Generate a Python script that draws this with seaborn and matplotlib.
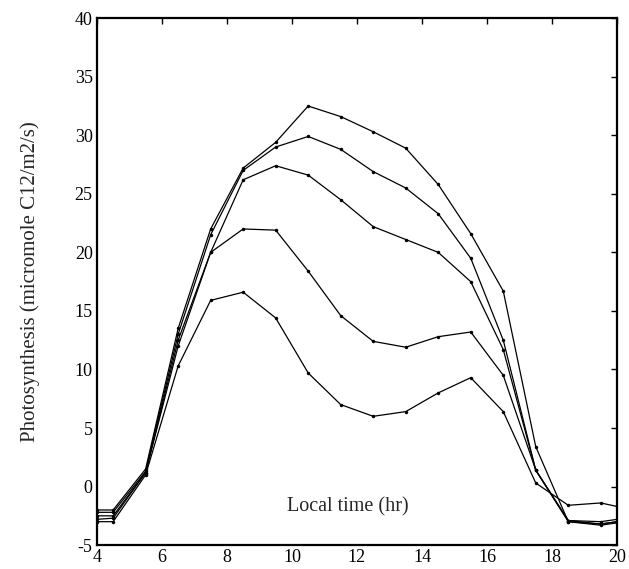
import matplotlib
matplotlib.use("Agg")
import matplotlib.pyplot as plt
import seaborn as sns
import pandas as pd

# local time (hr)
hours = [4, 4.5, 5.5, 6.5, 7.5, 8.5, 9.5, 10.5, 11.5, 12.5, 13.5, 14.5, 15.5, 16.5, 17.5, 18.5, 19.5, 20]

# photosynthesis curves
curve_a = [-2.0, -2.0, 1.5, 13.5, 22.0, 27.2, 29.4, 32.5, 31.6, 30.3, 28.9, 25.8, 21.6, 16.7, 3.4, -3.0, -3.2, -3.0]
curve_b = [-2.2, -2.2, 1.3, 13.0, 21.5, 27.0, 29.0, 29.9, 28.8, 26.9, 25.5, 23.3, 19.5, 12.5, 1.4, -2.9, -3.0, -2.8]
curve_c = [-2.5, -2.5, 1.2, 12.5, 20.0, 26.2, 27.4, 26.6, 24.5, 22.2, 21.1, 20.0, 17.5, 11.7, 1.4, -3.0, -3.3, -3.1]
curve_d = [-2.8, -2.7, 1.2, 12.0, 20.0, 22.0, 21.9, 18.4, 14.6, 12.4, 11.9, 12.8, 13.2, 9.5, 1.4, -2.9, -3.2, -3.0]
curve_e = [-3.0, -3.0, 1.0, 10.3, 15.9, 16.6, 14.4, 9.7, 7.0, 6.0, 6.4, 8.0, 9.3, 6.4, 0.3, -1.6, -1.4, -1.7]

curves = {"a": curve_a, "b": curve_b, "c": curve_c, "d": curve_d, "e": curve_e}
df = pd.concat(
    [pd.DataFrame({"hour": hours, "photo": v, "curve": k}) for k, v in curves.items()],
    ignore_index=True,
)

sns.set_style("white")
plt.rcParams["font.family"] = ["Liberation Serif", "DejaVu Serif"]
plt.rcParams["axes.unicode_minus"] = False

fig = plt.figure(figsize=(6.29, 5.69), dpi=100)
ax = fig.add_axes([0.154, 0.042, 0.827, 0.926])

sns.lineplot(
    data=df, x="hour", y="photo", hue="curve",
    palette=["black"] * 5, marker="o", markersize=2.5, markeredgewidth=0,
    linewidth=0.9, legend=False, ax=ax,
)

ax.set_xlim(4, 20)
ax.set_ylim(-5, 40)
ax.set_xticks(range(4, 21, 2))
ax.set_yticks(range(-5, 41, 5))
ax.tick_params(direction="in", top=True, right=True, length=4, width=1,
               labelsize=13, colors="black", pad=3)
for s in ax.spines.values():
    s.set_linewidth(1.6)
    s.set_color("black")

# x label sits inside the axes, just below the zero line
ax.set_xlabel("Local time (hr)", fontsize=14.5)
ax.xaxis.set_label_coords(0.483, 0.09)
ax.set_ylabel("Photosynthesis (micromole C12/m2/s)", fontsize=15, labelpad=25)

fig.savefig("out.png", dpi=100)
